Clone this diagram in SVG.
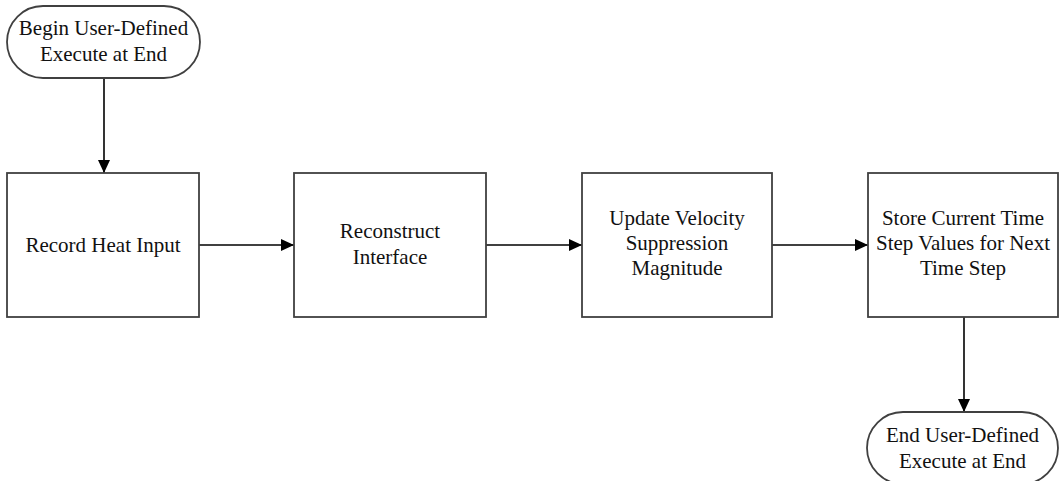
<svg xmlns="http://www.w3.org/2000/svg" width="1060" height="481" viewBox="0 0 1060 481">
  <style>
    .shape { fill: #ffffff; stroke: #404040; stroke-width: 1.8; }
    .label { font-family: "Liberation Serif", "Times New Roman", serif; font-size: 21px; fill: #111111; text-anchor: middle; }
    .conn { stroke: #000000; stroke-width: 1.6; fill: none; marker-end: url(#arrow); }
  </style>
  <defs>
    <marker id="arrow" viewBox="0 0 13 12" refX="13" refY="6" markerWidth="13" markerHeight="12" markerUnits="userSpaceOnUse" orient="auto">
      <path d="M0,0 L13,6 L0,12 Z" fill="#000000"/>
    </marker>
  </defs>

  <rect width="1060" height="481" fill="#ffffff"/>

  <!-- connectors -->
  <g id="connectors">
    <line class="conn" x1="104" y1="78" x2="104" y2="173"/>
    <line class="conn" x1="199" y1="245" x2="294" y2="245"/>
    <line class="conn" x1="486" y1="245" x2="582" y2="245"/>
    <line class="conn" x1="772" y1="245" x2="868" y2="245"/>
    <line class="conn" x1="964" y1="317" x2="964" y2="412"/>
  </g>

  <!-- start terminator -->
  <g id="begin">
    <rect class="shape" x="7" y="6" width="193" height="72" rx="36" ry="36"/>
    <text class="label" x="103.5" y="35">Begin User-Defined</text>
    <text class="label" x="103.5" y="61">Execute at End</text>
  </g>

  <g id="record-heat">
    <rect class="shape" x="7" y="173" width="192" height="144"/>
    <text class="label" x="103" y="252">Record Heat Input</text>
  </g>

  <g id="reconstruct">
    <rect class="shape" x="294" y="173" width="192" height="144"/>
    <text class="label" x="390" y="238">Reconstruct</text>
    <text class="label" x="390" y="264">Interface</text>
  </g>

  <g id="velocity">
    <rect class="shape" x="582" y="173" width="190" height="144"/>
    <text class="label" x="677" y="225">Update Velocity</text>
    <text class="label" x="677" y="250">Suppression</text>
    <text class="label" x="677" y="275">Magnitude</text>
  </g>

  <g id="store">
    <rect class="shape" x="868" y="173" width="190" height="144"/>
    <text class="label" x="963" y="225">Store Current Time</text>
    <text class="label" x="963" y="250">Step Values for Next</text>
    <text class="label" x="963" y="275">Time Step</text>
  </g>

  <!-- end terminator -->
  <g id="end">
    <rect class="shape" x="867" y="412" width="191" height="72" rx="36" ry="36"/>
    <text class="label" x="962.5" y="442">End User-Defined</text>
    <text class="label" x="962.5" y="468">Execute at End</text>
  </g>
</svg>
